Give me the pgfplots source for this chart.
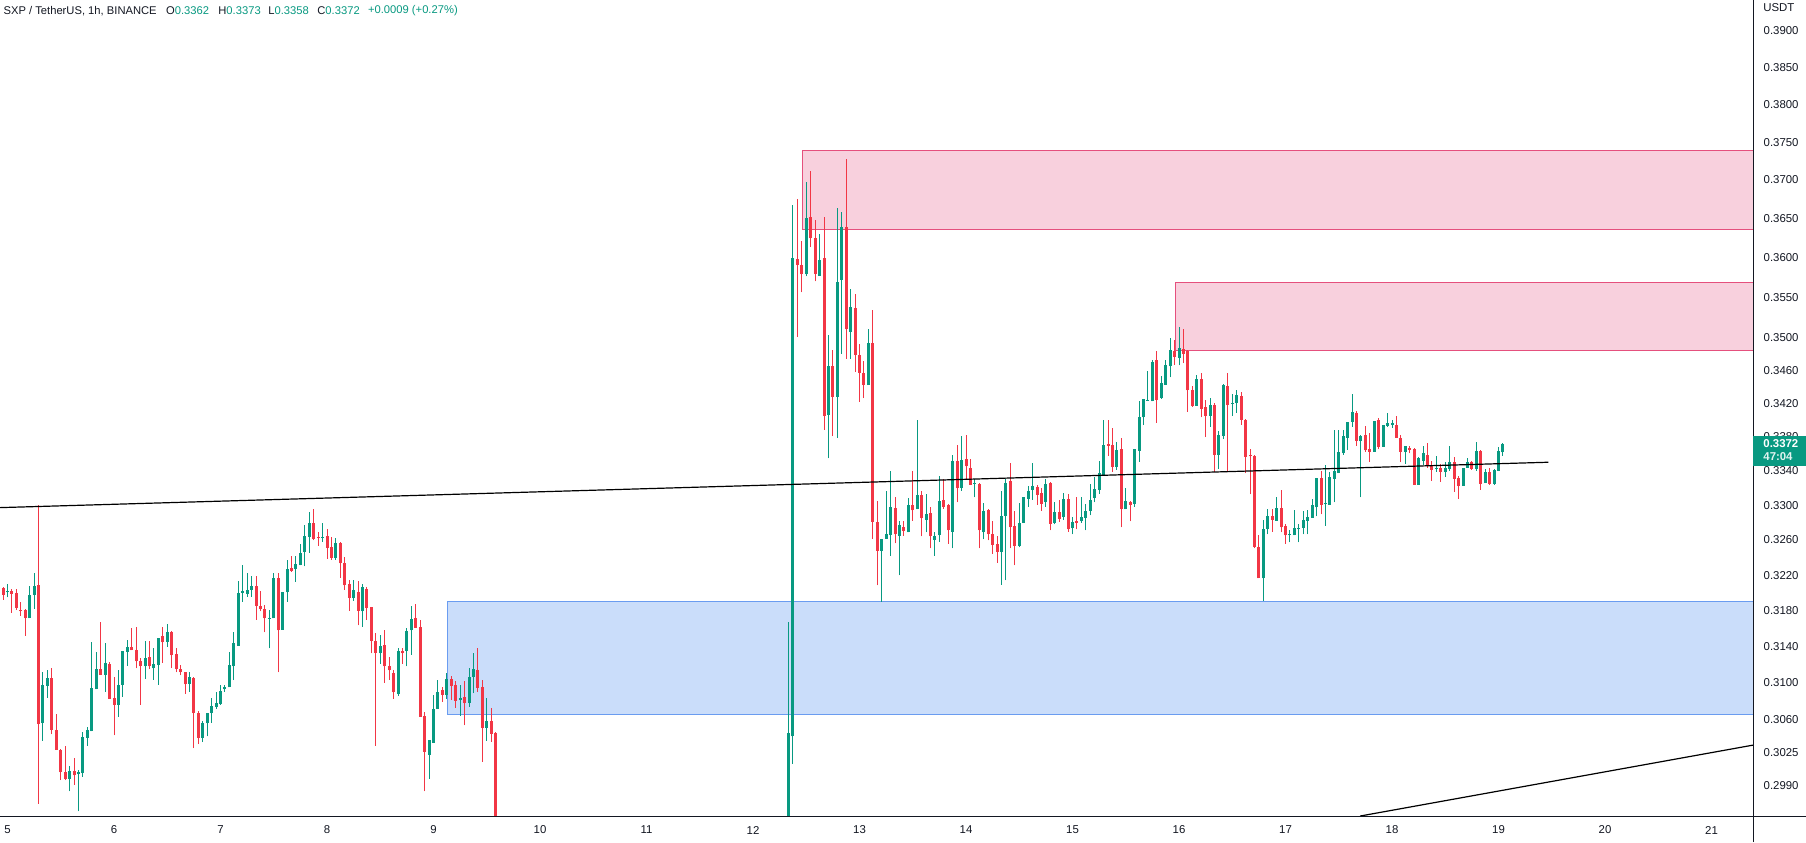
\documentclass[border=0pt]{standalone}
\usepackage{fontspec}
\setmainfont{Liberation Sans}
\usepackage{pgfplots}
\pgfplotsset{compat=1.18}
\usepackage{pgfplotstable}
\definecolor{upc}{RGB}{8,153,129}
\definecolor{dnc}{RGB}{242,54,69}
\definecolor{txt}{RGB}{19,23,34}
\definecolor{pinkfill}{RGB}{248,208,221}
\definecolor{pinkline}{RGB}{229,80,125}
\definecolor{bluefill}{RGB}{202,221,250}
\definecolor{blueline}{RGB}{106,156,240}

\pgfplotstableread{
h o hi lo c
-2 0.31789 0.32078 0.31770 0.32051
0 0.32005 0.32100 0.31949 0.32020
5 0.31711 0.32078 0.31711 0.31976
6 0.31976 0.32225 0.31823 0.32078
8 0.30565 0.31122 0.30379 0.30980
9 0.30972 0.31144 0.30841 0.31056
14 0.29976 0.30103 0.29839 0.30057
16 0.30019 0.30068 0.29632 0.30047
17 0.30033 0.30465 0.29997 0.30419
18 0.30411 0.30519 0.30326 0.30494
19 0.30476 0.31455 0.30476 0.30947
20 0.30929 0.31345 0.30929 0.31155
22 0.31093 0.31439 0.30907 0.31221
25 0.30766 0.31137 0.30637 0.30980
26 0.30980 0.31352 0.30852 0.31352
27 0.31345 0.31474 0.31191 0.31396
31 0.31180 0.31466 0.31049 0.31279
33 0.31159 0.31378 0.31038 0.31210
34 0.31199 0.31500 0.30980 0.31500
36 0.31455 0.31651 0.31396 0.31563
41 0.30991 0.31122 0.30903 0.31067
44 0.30411 0.30583 0.30361 0.30562
45 0.30562 0.30680 0.30422 0.30673
46 0.30673 0.30838 0.30573 0.30755
47 0.30741 0.30903 0.30723 0.30784
48 0.30773 0.30980 0.30762 0.30914
49 0.30929 0.30980 0.30903 0.30958
50 0.30954 0.31341 0.30954 0.31199
51 0.31180 0.31563 0.31031 0.31437
52 0.31407 0.32134 0.31407 0.31998
53 0.31998 0.32316 0.31900 0.32021
54 0.31987 0.32221 0.31957 0.32032
55 0.32032 0.32187 0.31957 0.32078
59 0.31708 0.31808 0.31378 0.31718
60 0.31711 0.32225 0.31711 0.32168
62 0.31585 0.32010 0.31585 0.32010
63 0.32002 0.32372 0.31900 0.32270
65 0.32266 0.32417 0.32123 0.32327
66 0.32308 0.32555 0.32308 0.32455
67 0.32467 0.32774 0.32297 0.32647
68 0.32639 0.32927 0.32455 0.32797
71 0.32626 0.32797 0.32578 0.32638
74 0.32395 0.32624 0.32373 0.32567
78 0.31945 0.32146 0.31911 0.32032
80 0.31789 0.32100 0.31622 0.32066
84 0.31323 0.31530 0.31213 0.31408
88 0.30885 0.31381 0.30863 0.31352
90 0.31352 0.31608 0.31180 0.31574
91 0.31578 0.31852 0.31312 0.31708
95 0.30229 0.30386 0.29976 0.30386
96 0.30357 0.30868 0.30357 0.30716
97 0.30716 0.31038 0.30716 0.30904
99 0.30874 0.31108 0.30830 0.31046
102 0.30816 0.30980 0.30647 0.30838
104 0.30781 0.31166 0.30744 0.31068
105 0.31071 0.31330 0.30889 0.31155
108 0.30518 0.30838 0.30379 0.30590
176 0.29000 0.31671 0.28800 0.30459
177 0.30425 0.36679 0.30130 0.35994
180 0.35794 0.36976 0.35770 0.36510
183 0.35776 0.36301 0.35776 0.35976
185 0.34067 0.35040 0.33548 0.34655
187 0.34285 0.36638 0.33796 0.35696
188 0.35725 0.36580 0.34810 0.36400
190 0.35079 0.35610 0.34743 0.35383
194 0.34422 0.35113 0.34422 0.34944
197 0.32476 0.32612 0.31899 0.32612
198 0.32612 0.33163 0.32612 0.32669
199 0.32653 0.33393 0.32419 0.32984
201 0.32648 0.32821 0.32197 0.32774
203 0.32686 0.33083 0.32686 0.33004
205 0.32951 0.34007 0.32951 0.33121
207 0.32832 0.33133 0.32686 0.32901
209 0.32601 0.32693 0.32420 0.32647
210 0.32651 0.33344 0.32582 0.33050
213 0.32697 0.33590 0.32501 0.33520
215 0.33207 0.33808 0.33172 0.33532
218 0.33250 0.33301 0.33090 0.33262
220 0.32686 0.33027 0.32605 0.32935
224 0.32467 0.33168 0.32093 0.32878
225 0.32878 0.33309 0.32138 0.33262
228 0.32536 0.33027 0.32513 0.32797
229 0.32801 0.33098 0.32801 0.33098
230 0.33074 0.33227 0.32981 0.33168
231 0.33180 0.33497 0.33062 0.33227
234 0.33043 0.33309 0.32985 0.33250
236 0.32801 0.33039 0.32778 0.32924
238 0.32866 0.33145 0.32832 0.33074
240 0.32732 0.32866 0.32663 0.32809
242 0.32812 0.33098 0.32801 0.32866
243 0.32858 0.33016 0.32709 0.32935
244 0.32935 0.33250 0.32882 0.33062
245 0.33086 0.33332 0.33031 0.33192
246 0.33176 0.33520 0.33137 0.33379
247 0.33356 0.34007 0.33356 0.33709
250 0.33450 0.33744 0.33414 0.33649
252 0.32951 0.33203 0.32951 0.33050
254 0.33020 0.33661 0.32985 0.33661
255 0.33637 0.34234 0.33512 0.34043
256 0.34035 0.34258 0.33940 0.34258
257 0.34238 0.34599 0.34238 0.34250
258 0.34226 0.34732 0.34226 0.34712
260 0.34271 0.34538 0.34262 0.34453
261 0.34429 0.34732 0.34429 0.34672
262 0.34651 0.35006 0.34518 0.34854
264 0.34761 0.35143 0.34664 0.34874
268 0.34174 0.34550 0.34174 0.34502
271 0.34055 0.34271 0.33924 0.34186
273 0.33590 0.33876 0.33426 0.33828
274 0.33816 0.34441 0.33776 0.34429
276 0.34198 0.34319 0.34059 0.34210
277 0.34206 0.34364 0.34095 0.34303
283 0.32161 0.32832 0.31908 0.32728
284 0.32728 0.32958 0.32663 0.32878
286 0.32820 0.33098 0.32820 0.32970
289 0.32655 0.32716 0.32570 0.32665
290 0.32651 0.32947 0.32651 0.32739
291 0.32720 0.32785 0.32570 0.32739
292 0.32739 0.32935 0.32663 0.32832
293 0.32824 0.32947 0.32663 0.32866
294 0.32858 0.33074 0.32858 0.33004
295 0.32974 0.33321 0.32870 0.33321
297 0.33010 0.33473 0.32766 0.33022
298 0.33008 0.33391 0.33008 0.33332
299 0.33313 0.33888 0.33031 0.33403
300 0.33375 0.33888 0.33375 0.33626
301 0.33606 0.33888 0.33590 0.33816
302 0.33796 0.33983 0.33653 0.33983
303 0.33983 0.34319 0.33924 0.34103
305 0.33749 0.33828 0.33090 0.33816
308 0.33629 0.33995 0.33629 0.33995
310 0.33685 0.33948 0.33685 0.33948
311 0.33936 0.34091 0.33924 0.33971
312 0.33950 0.34007 0.33912 0.33962
315 0.33629 0.33697 0.33485 0.33697
318 0.33242 0.33567 0.33242 0.33555
319 0.33520 0.33697 0.33473 0.33614
322 0.33428 0.33579 0.33391 0.33440
324 0.33391 0.33508 0.33332 0.33438
325 0.33426 0.33697 0.33403 0.33508
328 0.33227 0.33438 0.33227 0.33438
329 0.33438 0.33555 0.33438 0.33508
331 0.33426 0.33744 0.33403 0.33637
333 0.33262 0.33426 0.33262 0.33391
335 0.33250 0.33426 0.33238 0.33414
336 0.33403 0.33685 0.33403 0.33637
337 0.33620 0.33730 0.33580 0.33720
}\uptab

\pgfplotstableread{
h o hi lo c
-1 0.32055 0.32060 0.31919 0.31976
1 0.32021 0.32044 0.31778 0.31991
2 0.31998 0.32044 0.31808 0.31834
3 0.31808 0.31897 0.31741 0.31789
4 0.31808 0.31815 0.31518 0.31711
7 0.32089 0.33001 0.29713 0.30555
10 0.31056 0.31159 0.30444 0.30494
11 0.30494 0.30666 0.30282 0.30282
12 0.30282 0.30290 0.29959 0.30040
13 0.30040 0.30322 0.29959 0.29973
15 0.30050 0.30195 0.29913 0.30008
21 0.31155 0.31678 0.31093 0.31093
23 0.31210 0.31232 0.30831 0.30831
24 0.30834 0.31071 0.30433 0.30766
28 0.31396 0.31607 0.31356 0.31356
29 0.31363 0.31618 0.31159 0.31235
30 0.31243 0.31272 0.30762 0.31180
32 0.31286 0.31466 0.31151 0.31180
35 0.31518 0.31618 0.31224 0.31444
37 0.31563 0.31570 0.31170 0.31301
38 0.31319 0.31378 0.31115 0.31151
39 0.31151 0.31195 0.31086 0.31115
40 0.31115 0.31120 0.30882 0.30984
42 0.31056 0.31060 0.30297 0.30673
43 0.30673 0.30694 0.30340 0.30411
56 0.32078 0.32187 0.31696 0.31852
57 0.31852 0.32021 0.31789 0.31819
58 0.31819 0.31863 0.31555 0.31711
61 0.32168 0.32225 0.31115 0.31578
64 0.32281 0.32417 0.32236 0.32247
69 0.32797 0.32958 0.32593 0.32613
70 0.32636 0.32693 0.32532 0.32621
72 0.32647 0.32724 0.32384 0.32512
73 0.32520 0.32636 0.32373 0.32395
75 0.32567 0.32570 0.32168 0.32331
76 0.32339 0.32403 0.32036 0.32081
77 0.32100 0.32146 0.31797 0.31945
79 0.32013 0.32134 0.31633 0.31797
81 0.32044 0.32066 0.31697 0.31833
82 0.31841 0.31845 0.31323 0.31463
83 0.31463 0.31549 0.30325 0.31333
85 0.31419 0.31585 0.31005 0.31180
86 0.31180 0.31290 0.31038 0.31137
87 0.31111 0.31137 0.30830 0.30896
89 0.31352 0.31381 0.31213 0.31323
92 0.31719 0.31875 0.31611 0.31611
93 0.31619 0.31697 0.30637 0.30637
94 0.30647 0.30687 0.29839 0.30261
98 0.30926 0.30962 0.30798 0.30874
100 0.31046 0.31082 0.30813 0.30972
101 0.30980 0.31027 0.30733 0.30808
103 0.30849 0.31027 0.30540 0.30781
106 0.31144 0.31385 0.30904 0.30947
107 0.30958 0.31038 0.30155 0.30518
109 0.30590 0.30733 0.30365 0.30454
110 0.30461 0.30470 0.28800 0.29000
178 0.35988 0.36755 0.35017 0.35907
179 0.35913 0.36212 0.35565 0.35794
181 0.36521 0.37123 0.36137 0.36248
182 0.36253 0.36487 0.35702 0.35805
184 0.35994 0.36521 0.33888 0.34050
186 0.34655 0.34854 0.33811 0.34285
189 0.36400 0.37271 0.34743 0.35108
191 0.35371 0.35542 0.34589 0.34793
192 0.34793 0.34922 0.34225 0.34572
193 0.34572 0.34721 0.34268 0.34422
195 0.34944 0.35343 0.32612 0.32811
196 0.32811 0.33052 0.32083 0.32476
200 0.32973 0.33100 0.32560 0.32665
202 0.32753 0.32821 0.32648 0.32706
204 0.32999 0.33404 0.32821 0.32941
206 0.33121 0.33168 0.32640 0.32847
208 0.32912 0.32981 0.32501 0.32640
211 0.33062 0.33309 0.32958 0.32985
212 0.33004 0.33010 0.32559 0.32709
214 0.33520 0.33709 0.33031 0.33195
216 0.33543 0.33828 0.33309 0.33454
217 0.33438 0.33543 0.33242 0.33242
219 0.33250 0.33255 0.32501 0.32709
221 0.32947 0.32958 0.32594 0.32663
222 0.32670 0.32820 0.32444 0.32547
223 0.32555 0.32647 0.32342 0.32467
226 0.33285 0.33497 0.32501 0.32743
227 0.32762 0.32935 0.32308 0.32536
232 0.33215 0.33238 0.33008 0.33121
233 0.33145 0.33203 0.32935 0.33020
235 0.33262 0.33268 0.32709 0.32789
237 0.32924 0.33062 0.32809 0.32843
239 0.33074 0.33133 0.32697 0.32720
241 0.32820 0.33098 0.32720 0.32801
248 0.33720 0.34007 0.33579 0.33697
249 0.33709 0.33912 0.33391 0.33450
251 0.33661 0.33792 0.32743 0.32951
253 0.33039 0.33045 0.32812 0.33008
259 0.34732 0.34842 0.33971 0.34246
263 0.34846 0.34977 0.34672 0.34773
265 0.34866 0.35114 0.34692 0.34809
266 0.34846 0.34852 0.34107 0.34360
267 0.34368 0.34417 0.34166 0.34174
269 0.34502 0.34571 0.34035 0.34142
270 0.34162 0.34250 0.33804 0.34055
272 0.34186 0.34202 0.33387 0.33590
275 0.34417 0.34575 0.33399 0.34186
278 0.34295 0.34344 0.33948 0.34007
279 0.34007 0.34012 0.33375 0.33567
280 0.33590 0.33661 0.33125 0.33571
281 0.33579 0.33590 0.32501 0.32521
282 0.32521 0.32659 0.32161 0.32161
285 0.32878 0.32958 0.32697 0.32832
287 0.32970 0.33180 0.32686 0.32743
288 0.32762 0.32785 0.32559 0.32651
296 0.33321 0.33403 0.32893 0.33004
304 0.34091 0.34115 0.33697 0.33757
306 0.33828 0.33936 0.33629 0.33645
307 0.33661 0.33852 0.33512 0.33629
309 0.34007 0.34027 0.33661 0.33685
313 0.33948 0.34055 0.33796 0.33796
314 0.33796 0.33828 0.33500 0.33629
316 0.33673 0.33697 0.33606 0.33653
317 0.33661 0.33667 0.33242 0.33242
320 0.33590 0.33732 0.33438 0.33461
321 0.33473 0.33520 0.33285 0.33414
323 0.33438 0.33485 0.33274 0.33391
326 0.33508 0.33567 0.33156 0.33309
327 0.33321 0.33344 0.33074 0.33227
330 0.33508 0.33520 0.33414 0.33426
332 0.33637 0.33643 0.33180 0.33250
334 0.33391 0.33438 0.33238 0.33250
}\dntab

\begin{document}
\begin{tikzpicture}[x=1pt,y=1pt]
\useasboundingbox (0,0) rectangle (903,421);
\fill[white] (0,0) rectangle (903,421);
\begin{axis}[
  at={(0pt,13pt)}, anchor=south west,
  scale only axis, width=876.65pt, height=408pt,
  xmin=4.9296, xmax=21.392,
  ymode=log, ymin=0.29583, ymax=0.39422,
  axis line style={draw=none},
  major tick length=0pt, minor tick length=0pt,
  xtick={5,6,7,8,9,10,11,12,13,14,15,16,17,18,19,20,21},
  xticklabels={5,6,7,8,9,10,11,12,13,14,15,16,17,18,19,20,21},
  ytick={0.2990,0.3025,0.3060,0.3100,0.3140,0.3180,0.3220,0.3260,0.3300,0.3340,0.3380,0.3420,0.3460,0.3500,0.3550,0.3600,0.3650,0.3700,0.3750,0.3800,0.3850,0.3900},
  yticklabels={0.2990,0.3025,0.3060,0.3100,0.3140,0.3180,0.3220,0.3260,0.3300,0.3340,0.3380,0.3420,0.3460,0.3500,0.3550,0.3600,0.3650,0.3700,0.3750,0.3800,0.3850,0.3900},
  yticklabel pos=right,
  tick label style={font=\fontsize{5.7pt}{6.8pt}\selectfont, text=txt},
  xticklabel style={anchor=center, yshift=-7pt, inner sep=0pt},
  yticklabel style={anchor=west, xshift=5pt, inner sep=0pt},
  clip mode=individual,
]
% zones
\addplot[fill=pinkfill, draw=pinkline, line width=0.5pt] coordinates {(12.463,0.36358) (21.6,0.36358) (21.6,0.37390) (12.463,0.37390)} -- cycle;
\addplot[fill=pinkfill, draw=pinkline, line width=0.5pt] coordinates {(15.965,0.34852) (21.6,0.34852) (21.6,0.35687) (15.965,0.35687)} -- cycle;
\addplot[fill=bluefill, draw=blueline, line width=0.5pt] coordinates {(9.130,0.30653) (21.6,0.30653) (21.6,0.31902) (9.130,0.31902)} -- cycle;
% wicks
\addplot[draw=none, error bars/.cd, y dir=plus, y explicit, error mark=none,
  error bar style={draw=upc, line width=0.5pt}]
  table[x expr=5+\thisrow{h}/24, y=lo, y error plus expr=\thisrow{hi}-\thisrow{lo}] {\uptab};
\addplot[draw=none, error bars/.cd, y dir=plus, y explicit, error mark=none,
  error bar style={draw=dnc, line width=0.5pt}]
  table[x expr=5+\thisrow{h}/24, y=lo, y error plus expr=\thisrow{hi}-\thisrow{lo}] {\dntab};
% bodies
\addplot[draw=none, error bars/.cd, y dir=plus, y explicit, error mark=none,
  error bar style={draw=upc, line width=1.5pt}]
  table[x expr=5+\thisrow{h}/24, y=o, y error plus expr=\thisrow{c}-\thisrow{o}] {\uptab};
\addplot[draw=none, error bars/.cd, y dir=plus, y explicit, error mark=none,
  error bar style={draw=dnc, line width=1.5pt}]
  table[x expr=5+\thisrow{h}/24, y=c, y error plus expr=\thisrow{o}-\thisrow{c}] {\dntab};
% trend lines
\addplot[black, line width=0.6pt] coordinates {(4.9296,0.32973) (19.468,0.33505)};
\addplot[black, line width=0.6pt] coordinates {(17.70,0.29583) (21.392,0.3033)};
\coordinate (pl) at (axis cs:21.392,0.3372);
\end{axis}
% separators
\draw[txt, line width=0.5pt] (0,13) -- (903,13);
\draw[txt, line width=0.5pt] (876.65,0) -- (876.65,421);
% price label
\fill[upc] ([yshift=3.8pt]pl) rectangle ([xshift=26.35pt,yshift=-11.2pt]pl);
\node[anchor=west, inner sep=0pt, text=white, font=\bfseries\fontsize{5.7pt}{6.8pt}\selectfont] at ([xshift=4.85pt]pl) {0.3372};
\node[anchor=west, inner sep=0pt, text=white!88!upc, font=\bfseries\fontsize{5.7pt}{6.8pt}\selectfont] at ([xshift=4.85pt,yshift=-6.6pt]pl) {47:04};
% currency
\node[anchor=west, inner sep=0pt, text=txt, font=\fontsize{5.7pt}{6.8pt}\selectfont] at (881.5,417) {USDT};
% header
\begin{scope}[every node/.style={anchor=west, inner sep=0pt, font=\fontsize{5.6pt}{6.7pt}\selectfont}]
\node[text=txt] at (1.6,415.5) {SXP / TetherUS, 1h, BINANCE};
\node at (82.85,415.5) {\textcolor{txt}{O}\textcolor{upc}{0.3362}};
\node at (109.0,415.5) {\textcolor{txt}{H}\textcolor{upc}{0.3373}};
\node at (134.0,415.5) {\textcolor{txt}{L}\textcolor{upc}{0.3358}};
\node at (158.5,415.5) {\textcolor{txt}{C}\textcolor{upc}{0.3372}};
\node[text=upc] at (183.85,415.5) {+0.0009 (+0.27\%)};
\end{scope}
\end{tikzpicture}
\end{document}
